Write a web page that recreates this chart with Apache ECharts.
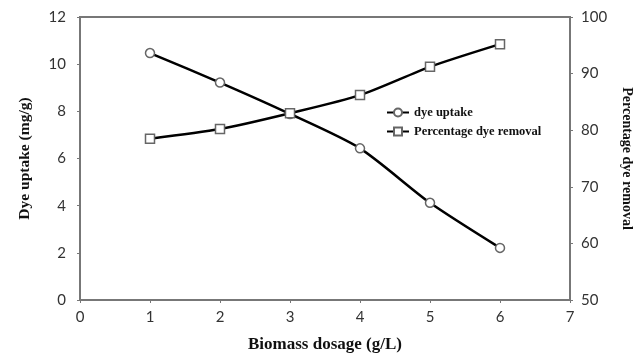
<!DOCTYPE html>
<html>
<head>
<meta charset="utf-8">
<script src="https://cdn.jsdelivr.net/npm/echarts@6/dist/echarts.min.js"></script>
<style>
  html, body { margin: 0; padding: 0; background: #fff; }
  #chart { width: 639px; height: 354px; }
</style>
</head>
<body>
<div id="chart"></div>
<script>
// Biomass dosage (g/L)
const dosage = [1, 2, 3, 4, 5, 6];
// Dye uptake (mg/g), left axis
const dyeUptake = [10.47, 9.22, 7.89, 6.43, 4.12, 2.21];
// Percentage dye removal (%), right axis
const dyeRemoval = [78.5, 80.2, 83.0, 86.2, 91.2, 95.2];

const tickFont = { fontFamily: 'Lato', fontSize: 15, color: '#333' };
const titleFont = { fontFamily: 'Liberation Serif', fontWeight: 'bold', color: '#111' };
const axisGrey = '#777';

const chart = echarts.init(document.getElementById('chart'));
chart.setOption({
  animation: false,
  backgroundColor: '#fff',
  grid: {
    left: 80, right: 69, top: 17, bottom: 54,
    outerBoundsMode: 'none',
    containLabel: false,
    show: true, borderColor: axisGrey, borderWidth: 2, backgroundColor: 'transparent'
  },
  legend: {
    orient: 'vertical',
    left: 381, top: 101,
    itemWidth: 22, itemHeight: 10, itemGap: 6,
    textStyle: { fontFamily: 'Liberation Serif', fontSize: 12.5, fontWeight: 'bold', color: '#111' },
    data: ['dye uptake', 'Percentage dye removal']
  },
  xAxis: {
    type: 'value', min: 0, max: 7, interval: 1,
    name: 'Biomass dosage (g/L)', nameLocation: 'middle', nameGap: 36,
    nameTextStyle: Object.assign({ fontSize: 17 }, titleFont),
    axisLine: { show: true, lineStyle: { color: axisGrey, width: 2 } },
    axisTick: { show: true, length: 3, lineStyle: { color: axisGrey } },
    axisLabel: Object.assign({ margin: 10 }, tickFont),
    splitLine: { show: false }
  },
  yAxis: [
    {
      type: 'value', min: 0, max: 12, interval: 2, position: 'left',
      name: 'Dye uptake (mg/g)', nameLocation: 'middle', nameGap: 47,
      nameTextStyle: Object.assign({ fontSize: 15.5 }, titleFont),
      axisLine: { show: true, lineStyle: { color: axisGrey, width: 2 } },
      axisTick: { show: true, length: 3, lineStyle: { color: axisGrey } },
      axisLabel: Object.assign({ margin: 14 }, tickFont),
      splitLine: { show: false }
    },
    {
      type: 'value', min: 50, max: 100, interval: 10, position: 'right',
      name: 'Percentage dye removal', nameLocation: 'middle', nameGap: 50, nameRotate: -90,
      nameTextStyle: Object.assign({ fontSize: 14 }, titleFont),
      axisLine: { show: true, lineStyle: { color: axisGrey, width: 2 } },
      axisTick: { show: true, length: 3, lineStyle: { color: axisGrey } },
      axisLabel: Object.assign({ margin: 11 }, tickFont),
      splitLine: { show: false }
    }
  ],
  series: [
    {
      name: 'dye uptake', type: 'line', yAxisIndex: 0,
      data: dosage.map((x, i) => [x, dyeUptake[i]]),
      smooth: 0.25,
      symbol: 'circle', symbolSize: 9,
      lineStyle: { color: '#000', width: 2.5 },
      itemStyle: { color: '#fff', borderColor: '#666', borderWidth: 1.5 }
    },
    {
      name: 'Percentage dye removal', type: 'line', yAxisIndex: 1,
      data: dosage.map((x, i) => [x, dyeRemoval[i]]),
      smooth: 0.25,
      symbol: 'rect', symbolSize: 9,
      lineStyle: { color: '#000', width: 2.5 },
      itemStyle: { color: '#fff', borderColor: '#666', borderWidth: 1.5 }
    }
  ]
});
</script>
</body>
</html>
